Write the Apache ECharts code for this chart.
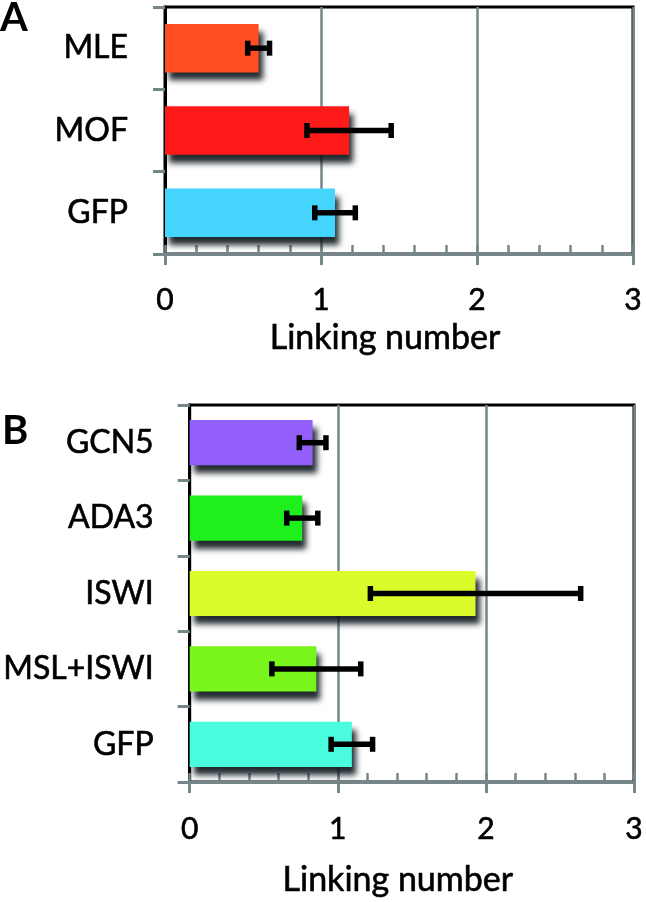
<!DOCTYPE html>
<html>
<head>
<meta charset="utf-8">
<script src="https://cdn.jsdelivr.net/npm/echarts@6/dist/echarts.min.js"></script>
<style>
html,body{margin:0;padding:0;background:#fff;}
#chart{width:646px;height:902px;}
</style>
</head>
<body>
<div id="chart"></div>
<script>
// Panel A data (top to bottom)
var catsA = ['MLE', 'MOF', 'GFP'];
var valsA = [0.60, 1.18, 1.09];
var errsA = [0.07, 0.27, 0.13];
var colorsA = ['#FF4C20', '#FF1A1A', '#45D5FC'];

// Panel B data (top to bottom)
var catsB = ['GCN5', 'ADA3', 'ISWI', 'MSL+ISWI', 'GFP'];
var valsB = [0.83, 0.76, 1.93, 0.855, 1.095];
var errsB = [0.09, 0.105, 0.71, 0.30, 0.14];
var colorsB = ['#935FFB', '#1DF01C', '#D9FC2A', '#78F51A', '#48FCDD'];

// X axis ticks
var xMin = 0, xMax = 3, xStep = 1;
var axisName = 'Linking number';

var FONT = 'Lato';
var GRAY = '#76878a';
var TB = { textBorderColor: '#000', textBorderWidth: 0.6 };

var chart = echarts.init(document.getElementById('chart'));

function barData(vals, colors) {
  return vals.map(function (v, i) {
    return { value: v, itemStyle: { color: colors[i] } };
  });
}
function errData(vals, errs) {
  return vals.map(function (v, i) {
    return [v - errs[i], v + errs[i], i];
  });
}
function renderErr(params, api) {
  var lo = api.value(0), hi = api.value(1), idx = api.value(2);
  var p1 = api.coord([lo, idx]);
  var p2 = api.coord([hi, idx]);
  var h = 7.5;
  var st = { stroke: '#000', lineWidth: 5.5 };
  return {
    type: 'group',
    children: [
      { type: 'line', shape: { x1: p1[0], y1: p1[1], x2: p2[0], y2: p2[1] }, style: st },
      { type: 'line', shape: { x1: p1[0], y1: p1[1] - h, x2: p1[0], y2: p1[1] + h }, style: st },
      { type: 'line', shape: { x1: p2[0], y1: p2[1] - h, x2: p2[0], y2: p2[1] + h }, style: st }
    ]
  };
}

function mainX(g, labelMargin, nameGap) {
  return {
    type: 'value', gridIndex: g, min: xMin, max: xMax, interval: xStep, position: 'bottom',
    axisLine: { show: true, lineStyle: { color: GRAY, width: 3 } },
    axisTick: { show: true, inside: false, length: 11, lineStyle: { color: GRAY, width: 3 } },
    axisLabel: Object.assign({ color: '#000', fontFamily: FONT, fontSize: 30, margin: labelMargin }, TB),
    splitLine: { show: true, lineStyle: { color: GRAY, width: 2.5 } },
    name: axisName, nameLocation: 'middle', nameGap: nameGap,
    nameTextStyle: Object.assign({ color: '#000', fontFamily: FONT, fontSize: 34, verticalAlign: 'top', padding: [0, 28, 0, 0] }, TB)
  };
}
function minorX(g) {
  return {
    type: 'value', gridIndex: g, min: xMin, max: xMax, interval: xStep, position: 'bottom',
    axisLine: { show: false },
    axisTick: { show: true, inside: true, length: 9, lineStyle: { color: GRAY, width: 2.5 } },
    minorTick: { show: true, splitNumber: 5, length: 9, lineStyle: { color: GRAY, width: 2.5 } },
    axisLabel: { show: false },
    splitLine: { show: false }
  };
}
function catY(g, cats, margin) {
  return {
    type: 'category', gridIndex: g, data: cats, inverse: true,
    axisLine: { show: true, lineStyle: { color: '#000', width: 3 } },
    axisTick: { show: true, length: 12, alignWithLabel: false, lineStyle: { color: GRAY, width: 3 } },
    axisLabel: Object.assign({ color: '#000', fontFamily: FONT, fontSize: 32, margin: margin }, TB),
    splitLine: { show: false }
  };
}
var shadow = { shadowColor: 'rgba(10,20,25,0.9)', shadowBlur: 6, shadowOffsetX: 4, shadowOffsetY: 8 };

chart.setOption({
  animation: false,
  backgroundColor: '#fff',
  grid: [
    { left: 165, top: 7, width: 468, height: 247, show: true, borderColor: '#000', borderWidth: 3, backgroundColor: 'transparent' },
    { left: 187, top: 405, width: 451, height: 377, show: true, borderColor: '#000', borderWidth: 3, backgroundColor: 'transparent' }
  ],
  xAxis: [mainX(0, 31, 67), minorX(0), mainX(1, 32, 81), minorX(1)],
  yAxis: [catY(0, catsA, 37), catY(1, catsB, 36)],
  graphic: [
    { type: 'text', left: 0, top: -2, style: { text: 'A', font: 'bold 40px Lato', fill: '#000' } },
    { type: 'text', left: 2, top: 411, style: { text: 'B', font: 'bold 40px Lato', fill: '#000' } }
  ],
  series: [
    { type: 'bar', xAxisIndex: 0, yAxisIndex: 0, barCategoryGap: '41%', data: barData(valsA, colorsA), itemStyle: shadow, z: 2 },
    { type: 'custom', xAxisIndex: 0, yAxisIndex: 0, data: errData(valsA, errsA), renderItem: renderErr, encode: { x: [0, 1], y: 2 }, z: 5 },
    { type: 'bar', xAxisIndex: 2, yAxisIndex: 1, barCategoryGap: '40%', data: barData(valsB, colorsB), itemStyle: shadow, z: 2 },
    { type: 'custom', xAxisIndex: 2, yAxisIndex: 1, data: errData(valsB, errsB), renderItem: renderErr, encode: { x: [0, 1], y: 2 }, z: 5 }
  ]
});
</script>
</body>
</html>
